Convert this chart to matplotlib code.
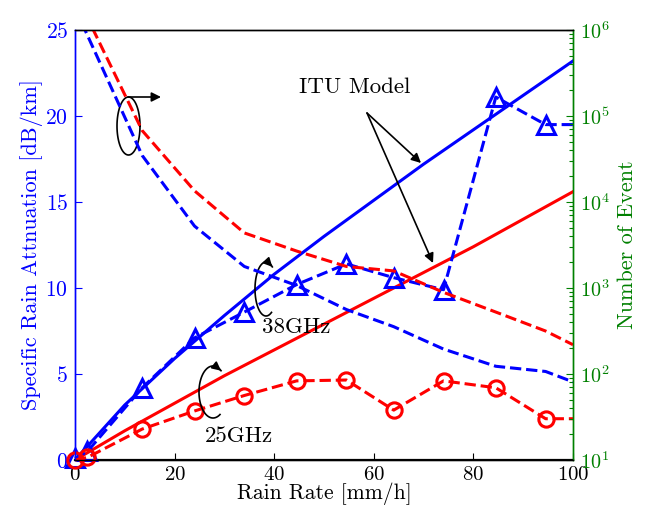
import numpy as np
import matplotlib
matplotlib.use("Agg")
import matplotlib.pyplot as plt
from matplotlib import ticker

plt.rcParams['font.family'] = 'serif'
plt.rcParams['font.serif'] = ['cmr10', 'DejaVu Serif']
plt.rcParams['mathtext.fontset'] = 'cm'
plt.rcParams['axes.formatter.use_mathtext'] = True

# ---------------- data ----------------
rain_itu = [0, 10, 20, 30, 40, 50, 60, 70, 80, 90, 100]
itu_38 = [0, 3.2, 5.9, 8.4, 10.8, 13.0, 15.1, 17.2, 19.2, 21.2, 23.2]
itu_25 = [0, 1.7, 3.3, 4.9, 6.4, 7.9, 9.4, 10.9, 12.4, 14.0, 15.6]

rain_meas = [0, 2.5, 13.5, 24, 34, 44.5, 54.5, 64, 74, 84.5, 94.5, 100]
meas_38 = [0.1, 0.5, 4.2, 7.1, 8.6, 10.2, 11.4, 10.6, 9.9, 21.1, 19.5, 19.5]
meas_25 = [0.0, 0.15, 1.8, 2.85, 3.75, 4.6, 4.65, 2.9, 4.6, 4.2, 2.4, 2.4]

rain_evt = [0, 13.5, 24, 34, 44.5, 54.5, 64, 74, 84.5, 94.5, 100]
events_38 = [1.8e6, 34700, 5250, 1780, 1070, 562, 355, 195, 123, 107, 81]
events_25 = [2.75e6, 67600, 13500, 4370, 2690, 1780, 1580, 890, 525, 316, 219]

BLUE = '#0000ff'
RED = '#ff0000'
GREEN = '#008000'

fig = plt.figure(figsize=(6.47, 5.08), dpi=100)
ax = fig.add_axes([75/647, 48/508, 498/647, 430/508])
ax2 = ax.twinx()

# ITU model
ax.plot(rain_itu, itu_38, color=BLUE, lw=2.2, zorder=3)
ax.plot(rain_itu, itu_25, color=RED, lw=2.2, zorder=3)
# measured
n = len(rain_meas) - 1
ax.plot(rain_meas, meas_38, color=BLUE, lw=2.2, ls='--', marker='^', ms=13,
        mfc='none', mec=BLUE, mew=2.2, markevery=list(range(n)), clip_on=False, zorder=4)
ax.plot(rain_meas, meas_25, color=RED, lw=2.2, ls='--', marker='o', ms=11,
        mfc='none', mec=RED, mew=2.2, markevery=list(range(n)), clip_on=False, zorder=4)

# events
ax2.plot(rain_evt, events_38, color=BLUE, lw=2.2, ls='--')
ax2.plot(rain_evt, events_25, color=RED, lw=2.2, ls='--')

ax.set_xlim(0, 100)
ax.set_ylim(0, 25)
ax2.set_yscale('log')
ax2.set_ylim(10, 1e6)

ax.set_xticks([0, 20, 40, 60, 80, 100])
ax.set_yticks([0, 5, 10, 15, 20, 25])
ax.tick_params(axis='x', direction='in', length=5, width=0.8, labelsize=15, pad=4.5, colors='black')
ax.tick_params(axis='y', direction='in', length=5, width=0.8, labelsize=15.5, pad=5, colors=BLUE)
ax2.tick_params(axis='y', which='major', direction='in', length=5, width=0.8, labelsize=14.5, pad=5, colors=GREEN)
ax2.tick_params(axis='y', which='minor', direction='in', length=3, width=0.8, colors=GREEN)
ax2.yaxis.set_major_locator(ticker.LogLocator(base=10, numticks=10))
ax2.yaxis.set_minor_locator(ticker.LogLocator(base=10, subs=np.arange(2, 10), numticks=20))
ax2.yaxis.set_minor_formatter(ticker.NullFormatter())

for a in (ax, ax2):
    a.spines['left'].set_color(BLUE)
    a.spines['right'].set_color(GREEN)
    a.spines['top'].set_color('black')
    a.spines['bottom'].set_color('black')
    for s in a.spines.values():
        s.set_linewidth(1.0)
ax.spines['bottom'].set_linewidth(1.6)

ax.set_xlabel('Rain Rate [mm/h]', fontsize=15.5, labelpad=-1.5)
ax.set_ylabel('Specific Rain Attnuation [dB/km]', fontsize=16, color=BLUE, labelpad=2)
ax2.set_ylabel('Number of Event', fontsize=16, color=GREEN, labelpad=6)

# ---------- annotations (positions in reference pixel space) ----------
def fr(px, py):
    return ((px - 75) / 498.0, (460 - py) / 430.0)

def arc(cx, cy, a, b, t0, t1, arrow=True, npts=120):
    t = np.radians(np.linspace(t0, t1, npts))
    xs = cx + a * np.cos(t)
    ys = cy - b * np.sin(t)
    pts = [fr(x, y) for x, y in zip(xs, ys)]
    px = [p[0] for p in pts]
    py = [p[1] for p in pts]
    ax.plot(px, py, color='black', lw=1.2, transform=ax.transAxes, clip_on=False, zorder=6)
    if arrow:
        ax.annotate('', xy=pts[-1], xytext=pts[-12], xycoords='axes fraction',
                    textcoords='axes fraction',
                    arrowprops=dict(arrowstyle='-|>', color='black', lw=1.2,
                                    shrinkA=0, shrinkB=0, mutation_scale=13), zorder=6)

# top-left ellipse with arrow to the right
arc(128.5, 126, 11.5, 29, 0, 360, arrow=False)
ax.annotate('', xy=fr(161, 97), xytext=fr(128, 97), xycoords='axes fraction',
            textcoords='axes fraction',
            arrowprops=dict(arrowstyle='-|>', color='black', lw=1.2, shrinkA=0, shrinkB=0,
                            mutation_scale=14))
# 38GHz
arc(266, 289, 11, 27, -60, -305)
ax.text(*fr(296, 327), '38GHz', transform=ax.transAxes, fontsize=16.5, ha='center', va='center')
# 25GHz
arc(213, 392, 14, 26, -60, -305)
ax.text(*fr(239, 436), '25GHz', transform=ax.transAxes, fontsize=16.5, ha='center', va='center')
# ITU model
ax.text(*fr(355, 87), 'ITU Model', transform=ax.transAxes, fontsize=16.5, ha='center', va='center')
for tgt in [(421, 163), (433, 263)]:
    ax.annotate('', xy=fr(*tgt), xytext=fr(367, 113), xycoords='axes fraction',
                textcoords='axes fraction',
                arrowprops=dict(arrowstyle='-|>', color='black', lw=1.2, shrinkA=0, shrinkB=0,
                                mutation_scale=14))

fig.savefig('out.png', dpi=100)
